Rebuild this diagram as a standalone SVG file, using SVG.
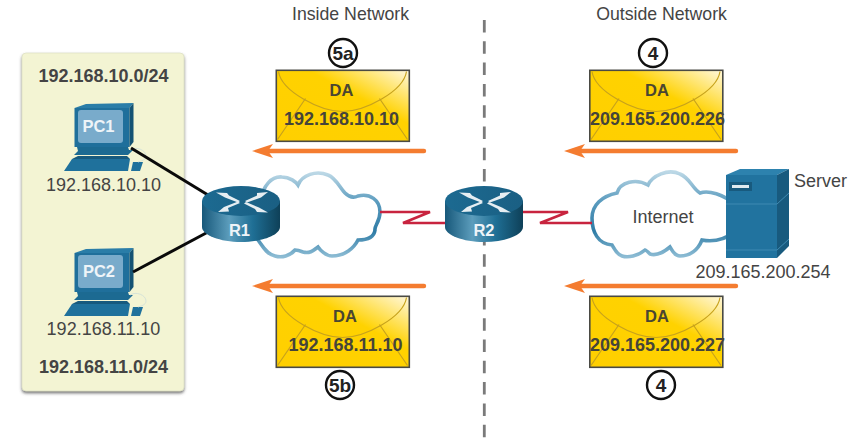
<svg xmlns="http://www.w3.org/2000/svg" xmlns:xlink="http://www.w3.org/1999/xlink" width="858" height="441" viewBox="0 0 858 441">
<style>
text{font-family:"Liberation Sans",Arial,sans-serif;fill:#444;font-size:18px;text-anchor:middle}
.h{font-size:17.7px}
.b{font-weight:bold}
.w{fill:#eef4f8;font-weight:bold;font-size:16.5px}
.da{font-size:16.5px;font-weight:bold;fill:#4a4632}
.ad{font-weight:bold;fill:#45443a}
.cloud{fill:#fff;stroke:url(#cl);stroke-width:3.6px}
.flow{stroke:#f47c30;stroke-width:4.4px;stroke-linecap:round;fill:none}
.badge{fill:#fff;stroke:#111;stroke-width:2.4px}
.bt{font-weight:bold;fill:#222;font-size:19px}
.serial{fill:none;stroke:#c8243f;stroke-width:2.6px}
</style>
<defs>
<linearGradient id="env" x1="0" y1="1" x2="1" y2="0">
<stop offset="0" stop-color="#ffcf00"/><stop offset="0.62" stop-color="#ffd200"/><stop offset="1" stop-color="#fff8df"/>
</linearGradient>
<linearGradient id="cl" x1="0" y1="0" x2="0" y2="1">
<stop offset="0" stop-color="#bcd8e6"/><stop offset="0.35" stop-color="#5a9bbe"/><stop offset="0.7" stop-color="#2f7ca6"/><stop offset="1" stop-color="#8dbcd4"/>
</linearGradient>
<linearGradient id="rb" x1="0" y1="0" x2="1" y2="0">
<stop offset="0" stop-color="#17587a"/><stop offset="0.35" stop-color="#5c9dbc"/><stop offset="0.65" stop-color="#1f6f95"/><stop offset="1" stop-color="#0e4058"/>
</linearGradient>
<linearGradient id="rt" x1="0" y1="0" x2="1" y2="0">
<stop offset="0" stop-color="#1c6a91"/><stop offset="1" stop-color="#1a5f83"/>
</linearGradient>
<filter id="sh" x="-10%" y="-10%" width="120%" height="120%">
<feDropShadow dx="0" dy="2" stdDeviation="1.5" flood-color="#555" flood-opacity="0.8"/>
</filter>
<g id="envelope">
<rect x="0.8" y="0.8" width="133" height="71" fill="url(#env)" stroke="#4a4a44" stroke-width="1.6"/>
<path d="M3,2C6,22 45,42 67,42C89,42 128,22 131,2" fill="none" stroke="#c7a21c" stroke-width="1.2"/>
<path d="M30,29L2,70M104,29L132,70" fill="none" stroke="#c7a21c" stroke-width="1.2"/>
</g>
<path id="head" d="M0,0L21,-7L16,0L21,7Z" fill="#f47c30"/>
<g id="pc">
<path d="M74.5,108L86,104L133.5,103L129.5,108Z" fill="#2a7da8"/>
<rect x="74.5" y="108" width="55" height="39" fill="#1f6f9b"/>
<path d="M129.5,108L133.5,103V142L129.5,147Z" fill="#145273"/>
<rect x="78" y="110" width="45" height="33" rx="3" fill="#79abcb"/>
<path d="M77,147H128L129,150L133,150L128,155H74L78,151Z" fill="#1c6a92"/>
<path d="M78,156H127L130,159H72Z" fill="#175a7e"/>
<path d="M72,159H130L128,171H64Z" fill="#1f719c"/>
<path d="M133,162H143L140,171H131Z" fill="#1f719c"/>
<path d="M130,150C136,146 146,150 146,156C146,160 141,161 138,162" fill="none" stroke="#d6e3d8" stroke-width="1"/>
</g>
<g id="router">
<path d="M-39,-13V13C-39,21 -21,28 0,28C21,28 39,21 39,13V-13Z" fill="url(#rb)"/>
<ellipse cx="0" cy="-13" rx="39" ry="15" fill="url(#rt)"/>
<g fill="#e6eef2">
<path d="M-25,-21.500L-14,-21L-12,-18.500L-1,-13L-3,-11.500L-16,-16.500Z"/>
<path d="M27,-1.500L16,-2L14,-5L3,-10.500L5,-12L18,-6.500Z"/>
<path d="M-23,-2L-12,-2.500L-13,-6L-1,-11L-3,-12.500L-17,-7Z"/>
<path d="M27,-22L16,-21L16,-18.500L4,-13L6,-11.500L20,-16.500Z"/>
</g>
</g>
</defs>
<rect width="858" height="441" fill="#fff"/>
<g id="panel">
<rect x="22" y="53" width="162" height="338" rx="4" fill="#f3f4d3" stroke="#d9dcc0" stroke-width="0.6" filter="url(#sh)"/>
<text class="b" x="103.500" y="82">192.168.10.0/24</text>
<text class="b" x="103.500" y="373">192.168.11.0/24</text>
</g>
<g id="boundary"><line x1="484.300" y1="20" x2="484.300" y2="441" stroke="#7a7a7a" stroke-width="2.8" stroke-dasharray="12.500 8.800"/></g>
<text class="h" x="350.500" y="20">Inside Network</text>
<text class="h" x="661.500" y="20">Outside Network</text>
<g id="cloud-left"><path class="cloud" d="M262,200C262,186 272,176 282,177C290,177 296,182 298,185C302,175 316,170 328,175C336,178 340,188 345,193C350,198 354,198 358,196C370,193 380,200 380,212C380,222 374,226 375,230C374,238 366,240 358,240C354,248 345,256 332,256C326,256 320,250 318,247C314,250 310,254 303,252C298,250 298,250 295,250C290,256 282,258 275,256C266,254 262,245 258,240Z"/></g>
<g id="cloud-internet"><path class="cloud" d="M592,218C592,205 602,196 617,193C620,182 636,178 648,185C652,176 668,168 680,174C690,178 692,188 700,193C708,190 724,194 735,205V232C724,240 712,242 702,240C698,250 690,256 680,256C674,256 672,250 670,247C664,252 656,256 650,254C648,252 646,250 645,250C638,256 628,258 622,256C616,254 614,248 612,245C598,244 592,232 592,218Z"/><text x="663" y="223">Internet</text></g>
<g id="pc1"><use xlink:href="#pc" href="#pc"/><text class="w" x="98.500" y="132">PC1</text><text x="103.500" y="191">192.168.10.10</text></g>
<g id="pc2"><use xlink:href="#pc" href="#pc" y="145"/><text class="w" x="99" y="277">PC2</text><text x="103.500" y="335">192.168.11.10</text></g>
<g id="connectors">
<line x1="131" y1="148" x2="208" y2="195" stroke="#0a0a0a" stroke-width="3"/>
<line x1="133" y1="272" x2="208" y2="232" stroke="#0a0a0a" stroke-width="3"/>
<path class="serial" d="M380,212H430L403,223H446"/>
<path class="serial" d="M522,212H568L540,223H592"/>
<line class="flow" x1="424" y1="151" x2="268" y2="151"/><use xlink:href="#head" href="#head" x="252" y="151"/>
<line class="flow" x1="424" y1="286" x2="268" y2="286"/><use xlink:href="#head" href="#head" x="252" y="286"/>
<line class="flow" x1="736" y1="151" x2="580" y2="151"/><use xlink:href="#head" href="#head" x="564" y="151"/>
<line class="flow" x1="736" y1="286" x2="580" y2="286"/><use xlink:href="#head" href="#head" x="564" y="286"/>
</g>
<g id="r1"><use xlink:href="#router" href="#router" x="241" y="214"/><text class="w" x="239.500" y="236">R1</text></g>
<g id="r2"><use xlink:href="#router" href="#router" x="484" y="214"/><text class="w" x="484" y="236">R2</text></g>
<g id="server">
<path d="M726,175L740,169H789L777,175Z" fill="#2d82ae"/>
<rect x="726" y="175" width="51" height="83" fill="#21739f"/>
<path d="M777,175L789,169V246L777,258Z" fill="#185a7e"/>
<rect x="729" y="182" width="23" height="9" fill="#185a7e"/>
<rect x="732" y="185" width="17" height="3" fill="#dfeaf0"/>
<path d="M726,204H777L789,193M726,250H777L789,239" fill="none" stroke="#3f8ab2" stroke-width="1"/>
<text x="820.500" y="187">Server</text>
<text x="763" y="278">209.165.200.254</text>
</g>
<g id="env-5a"><use xlink:href="#envelope" href="#envelope" x="275.500" y="69.500"/><text class="da" x="341.500" y="96">DA</text><text class="ad" x="341.500" y="125">192.168.10.10</text></g>
<g id="env-5b"><use xlink:href="#envelope" href="#envelope" x="275.500" y="295.500"/><text class="da" x="345" y="322">DA</text><text class="ad" x="345.500" y="351">192.168.11.10</text></g>
<g id="env-4a"><use xlink:href="#envelope" href="#envelope" x="589" y="69.500"/><text class="da" x="657" y="96">DA</text><text class="ad" x="657.500" y="125">209.165.200.226</text></g>
<g id="env-4b"><use xlink:href="#envelope" href="#envelope" x="589" y="295.500"/><text class="da" x="657" y="322">DA</text><text class="ad" x="657.500" y="351">209.165.200.227</text></g>
<g id="badge-5a"><circle class="badge" cx="343" cy="53" r="14"/><text class="bt" x="343" y="60">5a</text></g>
<g id="badge-5b"><circle class="badge" cx="340" cy="385" r="14"/><text class="bt" x="340" y="392">5b</text></g>
<g id="badge-4a"><circle class="badge" cx="653" cy="53" r="14"/><text class="bt" x="653" y="60">4</text></g>
<g id="badge-4b"><circle class="badge" cx="661" cy="385" r="14"/><text class="bt" x="661" y="392">4</text></g>
</svg>
